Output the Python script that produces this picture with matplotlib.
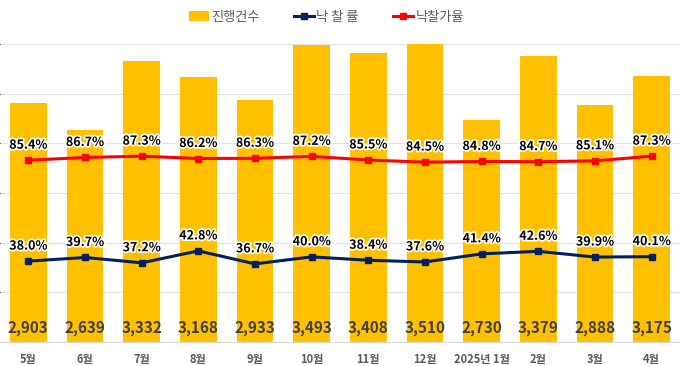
import numpy as np
import matplotlib
matplotlib.use("Agg")
import matplotlib.pyplot as plt
import matplotlib.patheffects as pe

plt.rcParams['font.family'] = ['Noto Sans CJK KR', 'DejaVu Sans']

# data
months = ['5월', '6월', '7월', '8월', '9월', '10월', '11월', '12월',
          '2025년 1월', '2월', '3월', '4월']
counts = [2903, 2639, 3332, 3168, 2933, 3493, 3408, 3510, 2730, 3379, 2888, 3175]
sale_rate = [38.0, 39.7, 37.2, 42.8, 36.7, 40.0, 38.4, 37.6, 41.4, 42.6, 39.9, 40.1]
price_rate = [85.4, 86.7, 87.3, 86.2, 86.3, 87.2, 85.5, 84.5, 84.8, 84.7, 85.1, 87.3]

bar_color = '#FFC000'
navy = '#002060'
red = '#FF0000'
grey_txt = '#595959'

fig = plt.figure(figsize=(6.8, 3.66), dpi=100)
ax = fig.add_axes([0.0, 24 / 366, 1.0, (342 - 44) / 366])

x = np.arange(len(months))
ax.bar(x, counts, width=0.65, color=bar_color, zorder=2, label='진행건수')
ax.set_ylim(500, 3500)
ax.set_yticks(np.arange(500, 3501, 500))
ax.set_xlim(-0.5, len(months) - 0.5)
ax.grid(axis='y', color='#E3E3E3', linewidth=0.9, zorder=0)
ax.tick_params(axis='y', left=False, labelleft=False)
ax.tick_params(axis='x', length=0, pad=8, labelsize=8, labelcolor=grey_txt)
ax.set_xticks(x)
ax.set_xticklabels(months, fontweight='bold')
for s in ['top', 'left', 'right']:
    ax.spines[s].set_visible(False)
ax.spines['bottom'].set_color('#D9D9D9')

for xi, c in zip(x, counts):
    ax.text(xi, 565, f'{c:,}', ha='center', va='bottom', fontsize=11,
            fontweight='bold', color='#404040', zorder=3)

ax2 = ax.twinx()
ax2.set_ylim(0, 140)
ax2.axis('off')
ax2.plot(x, sale_rate, color=navy, lw=2.2, marker='s', ms=4, label='낙 찰 률')
ax2.plot(x, price_rate, color=red, lw=2.2, marker='s', ms=4, label='낙찰가율')

halo = [pe.withStroke(linewidth=2.5, foreground='white')]
for xi, a, b in zip(x, sale_rate, price_rate):
    ax2.text(xi, a + 4, f'{a:.1f}%', ha='center', va='bottom', fontsize=9,
             fontweight='bold', color='black', path_effects=halo)
    ax2.text(xi, b + 4, f'{b:.1f}%', ha='center', va='bottom', fontsize=9,
             fontweight='bold', color='black', path_effects=halo)

h1, l1 = ax.get_legend_handles_labels()
h2, l2 = ax2.get_legend_handles_labels()
fig.legend(h1 + h2, l1 + l2, loc='center', bbox_to_anchor=(0.48, 1 - 17 / 366),
           ncol=3, frameon=False, fontsize=9.5, labelcolor=grey_txt,
           handlelength=1.5, handletextpad=0.2, columnspacing=2.6)

fig.savefig('out.png', dpi=100)
